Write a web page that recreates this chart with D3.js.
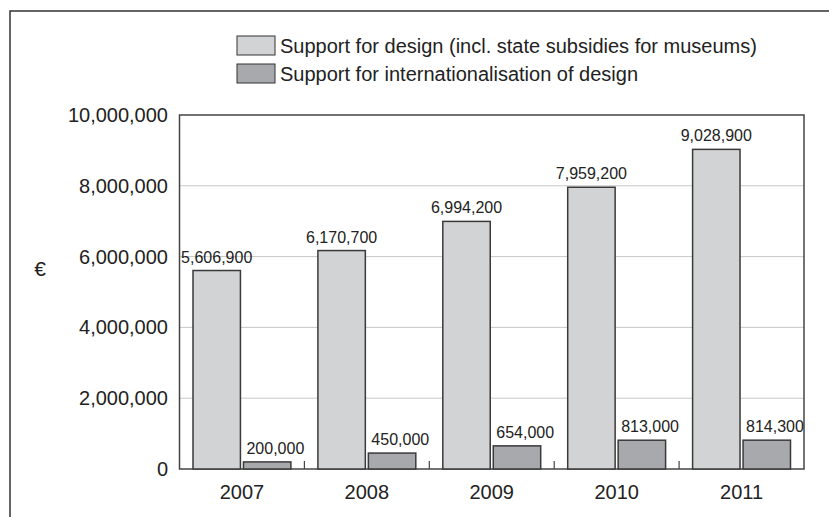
<!DOCTYPE html>
<html>
<head>
<meta charset="utf-8">
<script src="https://cdn.jsdelivr.net/npm/d3@7"></script>
<style>
  body { margin: 0; background: #fff; }
  text { font-family: "Liberation Sans", Arial, sans-serif; fill: #222; }
  .val { font-size: 16px; }
</style>
</head>
<body>
<svg id="chart" width="829" height="517"></svg>
<script>
// data
var years = ["2007", "2008", "2009", "2010", "2011"];
var seriesNames = ["Support for design (incl. state subsidies for museums)",
                   "Support for internationalisation of design"];
var design = [5606900, 6170700, 6994200, 7959200, 9028900];
var intl = [200000, 450000, 654000, 813000, 814300];
var yTicks = [0, 2000000, 4000000, 6000000, 8000000, 10000000];
var colors = ["#d1d3d4", "#a7a9ac"];

var svg = d3.select("#chart");
var fmt = d3.format(",");

// outer frame (runs off the canvas)
svg.append("path")
    .attr("d", "M10,517V11H829")
    .attr("fill", "none")
    .attr("stroke", "#333")
    .attr("stroke-width", 1.5);

var plotLeft = 179.5, plotRight = 804, plotTop = 115, plotBottom = 469;

var x = d3.scaleBand().domain(years).range([plotLeft, plotRight]).padding(0);
var xs = d3.scaleBand().domain([0, 1])
    .range([13.5, x.bandwidth() - 13.5])
    .paddingInner(0.06);
var y = d3.scaleLinear().domain([0, 10000000]).range([plotBottom, plotTop]);

// gridlines
svg.append("g").selectAll("line")
    .data(yTicks.slice(1, -1))
    .enter().append("line")
    .attr("x1", plotLeft).attr("x2", plotRight)
    .attr("y1", function(d) { return y(d); })
    .attr("y2", function(d) { return y(d); })
    .attr("stroke", "#c8c8c8")
    .attr("stroke-width", 1);

// plot border
svg.append("rect")
    .attr("x", plotLeft).attr("y", plotTop)
    .attr("width", plotRight - plotLeft).attr("height", plotBottom - plotTop)
    .attr("fill", "none")
    .attr("stroke", "#444")
    .attr("stroke-width", 1.5);

// y tick labels
svg.append("g").selectAll("text")
    .data(yTicks)
    .enter().append("text")
    .attr("x", 168)
    .attr("y", function(d) { return y(d); })
    .attr("dy", "0.35em")
    .attr("text-anchor", "end")
    .style("font-size", "20px")
    .text(function(d) { return fmt(d); });

svg.append("text")
    .attr("x", 40)
    .attr("y", 269)
    .attr("dy", "0.35em")
    .attr("text-anchor", "middle")
    .style("font-size", "21px")
    .text("€");

// small ticks between groups
svg.append("g").selectAll("line")
    .data(years.slice(1))
    .enter().append("line")
    .attr("x1", function(d) { return x(d); })
    .attr("x2", function(d) { return x(d); })
    .attr("y1", plotBottom).attr("y2", plotBottom - 8)
    .attr("stroke", "#444")
    .attr("stroke-width", 1.2);

// bars
var groups = svg.append("g").selectAll("g")
    .data(years)
    .enter().append("g")
    .attr("transform", function(d) { return "translate(" + x(d) + ",0)"; });

groups.each(function(yr, i) {
    var g = d3.select(this);
    var vals = [design[i], intl[i]];
    vals.forEach(function(v, s) {
        g.append("rect")
            .attr("x", xs(s))
            .attr("y", y(v))
            .attr("width", xs.bandwidth())
            .attr("height", plotBottom - y(v))
            .attr("fill", colors[s])
            .attr("stroke", "#3a3a3a")
            .attr("stroke-width", 1.5);
        g.append("text")
            .attr("class", "val")
            .attr("x", s ? xs(s) + 3 : xs(s) + xs.bandwidth() / 2)
            .attr("y", y(v) - 8)
            .attr("text-anchor", s ? "start" : "middle")
            .text(fmt(v));
    });
    g.append("text")
        .attr("x", x.bandwidth() / 2)
        .attr("y", 499)
        .attr("text-anchor", "middle")
        .style("font-size", "20px")
        .text(yr);
});

// legend
var legend = svg.append("g").selectAll("g")
    .data(seriesNames)
    .enter().append("g")
    .attr("transform", function(d, i) { return "translate(237," + (36 + i * 28) + ")"; });

legend.append("rect")
    .attr("width", 38).attr("height", 19)
    .attr("fill", function(d, i) { return colors[i]; })
    .attr("stroke", "#333")
    .attr("stroke-width", 1);

legend.append("text")
    .attr("x", 43)
    .attr("y", 10)
    .attr("dy", "0.35em")
    .style("font-size", "20px")
    .text(function(d) { return d; });
</script>
</body>
</html>
